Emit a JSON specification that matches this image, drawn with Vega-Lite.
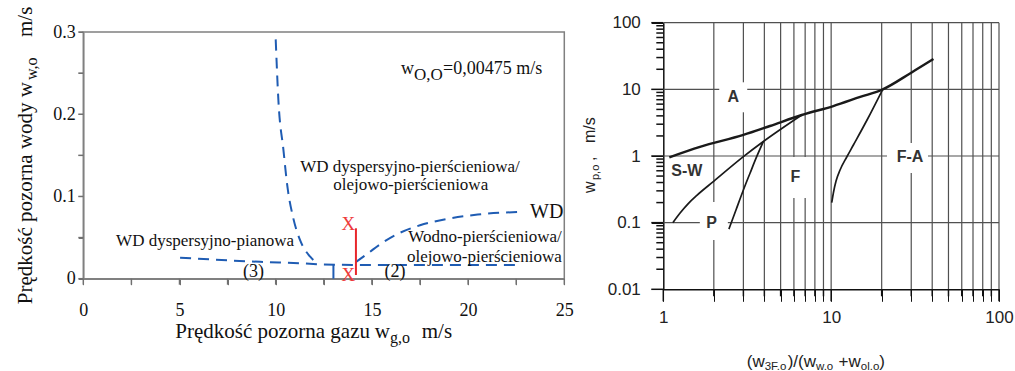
{
  "$schema": "https://vega.github.io/schema/vega-lite/v6.json",
  "width": 1015,
  "height": 371,
  "autosize": "none",
  "padding": 0,
  "background": "white",
  "config": {"view": {"stroke": null}},
  "resolve": {"scale": {"x": "independent", "y": "independent"}, "axis": {"x": "independent", "y": "independent"}},
  "layer": [
    {
      "encoding": {
        "x": {"field": "x", "type": "quantitative",
          "scale": {"domain": [0, 25], "range": [83.3, 564.3], "nice": false, "zero": false},
          "axis": {"orient": "bottom", "offset": -92.3, "values": [0, 2.5, 5, 7.5, 10, 12.5, 15, 17.5, 20, 22.5, 25],
            "labelExpr": "datum.value % 5 == 0 ? format(datum.value, 'd') : ''",
            "ticks": true, "tickSize": 6, "tickColor": "#707070", "domainColor": "#808080", "domainWidth": 1.5,
            "labelFont": "Liberation Serif", "labelFontSize": 18, "labelColor": "#111", "labelPadding": 16.5,
            "labelFlush": false, "labelOverlap": false, "title": null, "grid": false}},
        "y": {"field": "y", "type": "quantitative",
          "scale": {"domain": [0, 0.3], "range": [278.7, 32], "nice": false, "zero": false},
          "axis": {"orient": "left", "offset": -83.3, "values": [0, 0.05, 0.1, 0.15, 0.2, 0.25, 0.3],
            "labelExpr": "abs(datum.value*10 - round(datum.value*10)) < 0.001 ? format(datum.value, '~g') : ''",
            "ticks": true, "tickSize": 5, "tickColor": "#707070", "domainColor": "#808080", "domainWidth": 1.5,
            "labelFont": "Liberation Serif", "labelFontSize": 18, "labelColor": "#111", "labelPadding": 3,
            "labelFlush": false, "labelOverlap": false, "title": null, "grid": false}}
      },
      "layer": [
        {
          "data": {"values": [{"x": 0, "x2": 25, "y": 0, "y2": 0.3}]},
          "mark": {"type": "rect", "filled": false, "stroke": "#808080", "strokeWidth": 1.5},
          "encoding": {"x2": {"field": "x2"}, "y2": {"field": "y2"}}
        },
        {
          "data": {"values": [
            {"x": 0, "y": 0, "y2": -0.0073}, {"x": 2.5, "y": 0, "y2": -0.0073}, {"x": 5, "y": 0, "y2": -0.0073},
            {"x": 7.5, "y": 0, "y2": -0.0073}, {"x": 10, "y": 0, "y2": -0.0073}, {"x": 12.5, "y": 0, "y2": -0.0073},
            {"x": 15, "y": 0, "y2": -0.0073}, {"x": 17.5, "y": 0, "y2": -0.0073}, {"x": 20, "y": 0, "y2": -0.0073},
            {"x": 22.5, "y": 0, "y2": -0.0073}, {"x": 25, "y": 0, "y2": -0.0073}
          ]},
          "mark": {"type": "rule", "color": "#707070", "strokeWidth": 1.5},
          "encoding": {"y2": {"field": "y2"}}
        },
        {
          "data": {"values": [
            {"x": 0, "x2": -0.26, "y": 0}, {"x": 0, "x2": -0.26, "y": 0.05}, {"x": 0, "x2": -0.26, "y": 0.1},
            {"x": 0, "x2": -0.26, "y": 0.15}, {"x": 0, "x2": -0.26, "y": 0.2}, {"x": 0, "x2": -0.26, "y": 0.25},
            {"x": 0, "x2": -0.26, "y": 0.3}
          ]},
          "mark": {"type": "rule", "color": "#707070", "strokeWidth": 1.5},
          "encoding": {"x2": {"field": "x2"}}
        },
        {
          "data": {"values": [
            {"c": "a", "i": 0, "x": 10.0, "y": 0.291},
            {"c": "a", "i": 1, "x": 10.14, "y": 0.217},
            {"c": "a", "i": 2, "x": 10.4, "y": 0.157},
            {"c": "a", "i": 3, "x": 10.62, "y": 0.11},
            {"c": "a", "i": 4, "x": 10.9, "y": 0.075},
            {"c": "a", "i": 5, "x": 11.3, "y": 0.045},
            {"c": "a", "i": 6, "x": 11.78, "y": 0.027},
            {"c": "a", "i": 7, "x": 12.13, "y": 0.019},
            {"c": "b", "i": 0, "x": 5.03, "y": 0.0255},
            {"c": "b", "i": 1, "x": 7.8, "y": 0.022},
            {"c": "b", "i": 2, "x": 9.2, "y": 0.0205},
            {"c": "b", "i": 3, "x": 11.3, "y": 0.0187},
            {"c": "b", "i": 4, "x": 12.5, "y": 0.0172},
            {"c": "b", "i": 5, "x": 14, "y": 0.0168},
            {"c": "b", "i": 6, "x": 18, "y": 0.0167},
            {"c": "b", "i": 7, "x": 22.7, "y": 0.0167},
            {"c": "c", "i": 0, "x": 14.15, "y": 0.02},
            {"c": "c", "i": 1, "x": 14.8, "y": 0.031},
            {"c": "c", "i": 2, "x": 15.5, "y": 0.043},
            {"c": "c", "i": 3, "x": 16.3, "y": 0.054},
            {"c": "c", "i": 4, "x": 17.5, "y": 0.065},
            {"c": "c", "i": 5, "x": 19, "y": 0.073},
            {"c": "c", "i": 6, "x": 20.5, "y": 0.078},
            {"c": "c", "i": 7, "x": 22.7, "y": 0.0812}
          ]},
          "mark": {"type": "line", "color": "#1f5cb3", "strokeWidth": 2, "strokeDash": [11, 7], "interpolate": "monotone"},
          "encoding": {"detail": {"field": "c"}, "order": {"field": "i"}}
        },
        {
          "data": {"values": [{"x": 13, "y": 0, "y2": 0.017}]},
          "mark": {"type": "rule", "color": "#1f5cb3", "strokeWidth": 2},
          "encoding": {"y2": {"field": "y2"}}
        },
        {
          "data": {"values": [{"x": 14.17, "y": 0.0045, "y2": 0.0613}]},
          "mark": {"type": "rule", "color": "#e8262b", "strokeWidth": 2},
          "encoding": {"y2": {"field": "y2"}}
        },
        {
          "data": {"values": [
            {"x": 16.98, "y": 0.1362, "t": "WD dyspersyjno-pierścieniowa/"},
            {"x": 17.02, "y": 0.1139, "t": "olejowo-pierścieniowa"},
            {"x": 6.33, "y": 0.046, "t": "WD dyspersyjno-pianowa"},
            {"x": 20.88, "y": 0.0511, "t": "Wodno-pierścieniowa/"},
            {"x": 20.85, "y": 0.0268, "t": "olejowo-pierścieniowa"}
          ]},
          "mark": {"type": "text", "font": "Liberation Serif", "fontSize": 17, "color": "#111", "align": "center", "baseline": "middle"},
          "encoding": {"text": {"field": "t"}}
        },
        {
          "data": {"values": [
            {"x": 8.84, "y": 0.0085, "t": "(3)"},
            {"x": 16.2, "y": 0.0085, "t": "(2)"}
          ]},
          "mark": {"type": "text", "font": "Liberation Serif", "fontSize": 18, "color": "#111", "align": "center", "baseline": "middle"},
          "encoding": {"text": {"field": "t"}}
        },
        {
          "data": {"values": [{"x": 23.22, "y": 0.0811, "t": "WD"}]},
          "mark": {"type": "text", "font": "Liberation Serif", "fontSize": 20, "color": "#111", "align": "left", "baseline": "middle"},
          "encoding": {"text": {"field": "t"}}
        },
        {
          "data": {"values": [
            {"x": 13.78, "y": 0.0665, "t": "X"},
            {"x": 13.78, "y": 0.0045, "t": "X"}
          ]},
          "mark": {"type": "text", "font": "Liberation Serif", "fontSize": 19, "color": "#ee3b3b", "align": "center", "baseline": "middle"},
          "encoding": {"text": {"field": "t"}}
        },
        {
          "data": {"values": [
            {"x": 14.9, "y": -0.0716, "t": "Prędkość pozorna gazu"},
            {"x": 15.94, "y": -0.0716, "t": "w"}
          ]},
          "mark": {"type": "text", "font": "Liberation Serif", "fontSize": 21, "color": "#111", "align": "right", "baseline": "alphabetic"},
          "encoding": {"text": {"field": "t"}}
        },
        {
          "data": {"values": [{"x": 17.59, "y": -0.0716, "t": "m/s"}]},
          "mark": {"type": "text", "font": "Liberation Serif", "fontSize": 21, "color": "#111", "align": "left", "baseline": "alphabetic"},
          "encoding": {"text": {"field": "t"}}
        },
        {
          "data": {"values": [{"x": 15.94, "y": -0.0716, "t": "g,o"}]},
          "mark": {"type": "text", "font": "Liberation Serif", "fontSize": 16, "color": "#111", "align": "left", "baseline": "alphabetic", "dy": 5},
          "encoding": {"text": {"field": "t"}}
        },
        {
          "data": {"values": [{"x": 17.19, "y": 0.249, "t": "w"}]},
          "mark": {"type": "text", "font": "Liberation Serif", "fontSize": 18, "color": "#111", "align": "right", "baseline": "alphabetic"},
          "encoding": {"text": {"field": "t"}}
        },
        {
          "data": {"values": [{"x": 18.7, "y": 0.249, "t": "=0,00475 m/s"}]},
          "mark": {"type": "text", "font": "Liberation Serif", "fontSize": 18, "color": "#111", "align": "left", "baseline": "alphabetic"},
          "encoding": {"text": {"field": "t"}}
        },
        {
          "data": {"values": [{"x": 17.19, "y": 0.249, "t": "O,O"}]},
          "mark": {"type": "text", "font": "Liberation Serif", "fontSize": 17, "color": "#111", "align": "left", "baseline": "alphabetic", "dy": 6},
          "encoding": {"text": {"field": "t"}}
        },
        {
          "data": {"values": [{"x": -2.67, "y": 0.2392, "t": "Prędkość pozorna wody w"}]},
          "mark": {"type": "text", "font": "Liberation Serif", "fontSize": 21, "color": "#111", "align": "right", "baseline": "alphabetic", "angle": 270},
          "encoding": {"text": {"field": "t"}}
        },
        {
          "data": {"values": [{"x": -2.67, "y": 0.2939, "t": "m/s"}]},
          "mark": {"type": "text", "font": "Liberation Serif", "fontSize": 21, "color": "#111", "align": "left", "baseline": "alphabetic", "angle": 270},
          "encoding": {"text": {"field": "t"}}
        },
        {
          "data": {"values": [{"x": -2.41, "y": 0.2417, "t": "w,o"}]},
          "mark": {"type": "text", "font": "Liberation Serif", "fontSize": 16, "color": "#111", "align": "left", "baseline": "alphabetic", "angle": 270},
          "encoding": {"text": {"field": "t"}}
        }
      ]
    },
    {
      "encoding": {
        "x": {"field": "x", "type": "quantitative",
          "scale": {"type": "log", "domain": [1, 100], "range": [663.3, 999], "nice": false, "zero": false},
          "axis": {"orient": "bottom", "offset": -81.7, "values": [1, 2, 3, 4, 5, 6, 7, 8, 9, 10, 20, 30, 40, 50, 60, 70, 80, 90, 100],
            "labelExpr": "abs(log(datum.value)/LN10 - round(log(datum.value)/LN10)) < 0.001 ? format(datum.value, '~g') : ''",
            "ticks": true, "tickSize": 12, "tickColor": "#111", "domainColor": "#111", "domainWidth": 1.5,
            "labelFont": "Liberation Sans", "labelFontSize": 17, "labelColor": "#222", "labelPadding": 8,
            "labelFlush": false, "labelOverlap": false, "title": null, "grid": false}},
        "y": {"field": "y", "type": "quantitative",
          "scale": {"type": "log", "domain": [0.01, 100], "range": [289.3, 22.7], "nice": false, "zero": false},
          "axis": {"orient": "left", "offset": -663.3,
            "values": [0.01, 0.1, 1, 10, 100],
            "labelExpr": "format(datum.value, '~g')",
            "ticks": true, "tickSize": 12, "tickColor": "#111", "domainColor": "#111", "domainWidth": 1.5,
            "labelFont": "Liberation Sans", "labelFontSize": 17, "labelColor": "#222", "labelPadding": 11,
            "labelFlush": false, "labelOverlap": false, "title": null, "grid": false}}
      },
      "layer": [
        {
          "data": {"values": [
            {"x": 2, "y": 0.01, "y2": 100}, {"x": 3, "y": 0.01, "y2": 100}, {"x": 4, "y": 0.01, "y2": 100},
            {"x": 5, "y": 0.01, "y2": 100}, {"x": 6, "y": 0.01, "y2": 100}, {"x": 7, "y": 0.01, "y2": 100},
            {"x": 8, "y": 0.01, "y2": 100}, {"x": 9, "y": 0.01, "y2": 100}, {"x": 10, "y": 0.01, "y2": 100},
            {"x": 20, "y": 0.01, "y2": 100}, {"x": 30, "y": 0.01, "y2": 100}, {"x": 40, "y": 0.01, "y2": 100},
            {"x": 50, "y": 0.01, "y2": 100}, {"x": 60, "y": 0.01, "y2": 100}, {"x": 70, "y": 0.01, "y2": 100},
            {"x": 80, "y": 0.01, "y2": 100}, {"x": 90, "y": 0.01, "y2": 100}, {"x": 100, "y": 0.01, "y2": 100}
          ]},
          "mark": {"type": "rule", "color": "#505050", "strokeWidth": 1.2},
          "encoding": {"y2": {"field": "y2"}}
        },
        {
          "data": {"values": [
            {"x": 1, "x2": 100, "y": 0.1}, {"x": 1, "x2": 100, "y": 1},
            {"x": 1, "x2": 100, "y": 10}, {"x": 1, "x2": 100, "y": 100}
          ]},
          "mark": {"type": "rule", "color": "#505050", "strokeWidth": 1.2},
          "encoding": {"x2": {"field": "x2"}}
        },
        {
          "data": {"values": [
            {"x": 1, "y": 0.01, "y2": 0.00661}, {"x": 10, "y": 0.01, "y2": 0.00661}, {"x": 100, "y": 0.01, "y2": 0.00661},
            {"x": 2, "y": 0.01, "y2": 0.00785}, {"x": 3, "y": 0.01, "y2": 0.00785}, {"x": 4, "y": 0.01, "y2": 0.00785},
            {"x": 5, "y": 0.01, "y2": 0.00785}, {"x": 6, "y": 0.01, "y2": 0.00785}, {"x": 7, "y": 0.01, "y2": 0.00785},
            {"x": 8, "y": 0.01, "y2": 0.00785}, {"x": 9, "y": 0.01, "y2": 0.00785}, {"x": 20, "y": 0.01, "y2": 0.00785},
            {"x": 30, "y": 0.01, "y2": 0.00785}, {"x": 40, "y": 0.01, "y2": 0.00785}, {"x": 50, "y": 0.01, "y2": 0.00785},
            {"x": 60, "y": 0.01, "y2": 0.00785}, {"x": 70, "y": 0.01, "y2": 0.00785}, {"x": 80, "y": 0.01, "y2": 0.00785},
            {"x": 90, "y": 0.01, "y2": 0.00785}
          ]},
          "mark": {"type": "rule", "color": "#111", "strokeWidth": 1.5},
          "encoding": {"y2": {"field": "y2"}}
        },
        {
          "data": {"values": [
            {"y": 0.01, "x": 1, "x2": 0.848}, {"y": 0.1, "x": 1, "x2": 0.848}, {"y": 1, "x": 1, "x2": 0.848},
            {"y": 10, "x": 1, "x2": 0.848}, {"y": 100, "x": 1, "x2": 0.848},
            {"y": 0.02, "x": 1, "x2": 0.9085}, {"y": 0.03, "x": 1, "x2": 0.9085}, {"y": 0.04, "x": 1, "x2": 0.9085},
            {"y": 0.05, "x": 1, "x2": 0.9085}, {"y": 0.06, "x": 1, "x2": 0.9085}, {"y": 0.07, "x": 1, "x2": 0.9085},
            {"y": 0.08, "x": 1, "x2": 0.9085}, {"y": 0.09, "x": 1, "x2": 0.9085},
            {"y": 0.2, "x": 1, "x2": 0.9085}, {"y": 0.3, "x": 1, "x2": 0.9085}, {"y": 0.4, "x": 1, "x2": 0.9085},
            {"y": 0.5, "x": 1, "x2": 0.9085}, {"y": 0.6, "x": 1, "x2": 0.9085}, {"y": 0.7, "x": 1, "x2": 0.9085},
            {"y": 0.8, "x": 1, "x2": 0.9085}, {"y": 0.9, "x": 1, "x2": 0.9085},
            {"y": 2, "x": 1, "x2": 0.9085}, {"y": 3, "x": 1, "x2": 0.9085}, {"y": 4, "x": 1, "x2": 0.9085},
            {"y": 5, "x": 1, "x2": 0.9085}, {"y": 6, "x": 1, "x2": 0.9085}, {"y": 7, "x": 1, "x2": 0.9085},
            {"y": 8, "x": 1, "x2": 0.9085}, {"y": 9, "x": 1, "x2": 0.9085},
            {"y": 20, "x": 1, "x2": 0.9085}, {"y": 30, "x": 1, "x2": 0.9085}, {"y": 40, "x": 1, "x2": 0.9085},
            {"y": 50, "x": 1, "x2": 0.9085}, {"y": 60, "x": 1, "x2": 0.9085}, {"y": 70, "x": 1, "x2": 0.9085},
            {"y": 80, "x": 1, "x2": 0.9085}, {"y": 90, "x": 1, "x2": 0.9085}
          ]},
          "mark": {"type": "rule", "color": "#111", "strokeWidth": 1.5},
          "encoding": {"x2": {"field": "x2"}}
        },
        {
          "data": {"values": [{"x": 2.61, "y": 7.6}]},
          "mark": {"type": "point", "shape": "M-0.933,-1H0.933V1H-0.933Z", "size": 900, "filled": true, "fill": "white", "strokeWidth": 0, "opacity": 1}
        },
        {
          "data": {"values": [{"x": 6.18, "y": 0.476}]},
          "mark": {"type": "point", "shape": "M-0.683,-1H0.683V1H-0.683Z", "size": 1681, "filled": true, "fill": "white", "strokeWidth": 0, "opacity": 1}
        },
        {
          "data": {"values": [{"x": 28.5, "y": 0.933}]},
          "mark": {"type": "point", "shape": "M-1,-0.732H1V0.732H-1Z", "size": 1681, "filled": true, "fill": "white", "strokeWidth": 0, "opacity": 1}
        },
        {
          "data": {"values": [{"x": 2.0, "y": 0.106}]},
          "mark": {"type": "point", "shape": "M-0.737,-1H0.737V1H-0.737Z", "size": 1444, "filled": true, "fill": "white", "strokeWidth": 0, "opacity": 1}
        },
        {
          "data": {"values": [
            {"i": 0, "x": 1.086, "y": 0.956},
            {"i": 1, "x": 1.654, "y": 1.37},
            {"i": 2, "x": 3.0, "y": 2.07},
            {"i": 3, "x": 4.32, "y": 2.82},
            {"i": 4, "x": 6.68, "y": 4.12},
            {"i": 5, "x": 10.3, "y": 5.62},
            {"i": 6, "x": 14.9, "y": 7.7},
            {"i": 7, "x": 20.3, "y": 10.0},
            {"i": 8, "x": 30, "y": 17.8},
            {"i": 9, "x": 40.7, "y": 28.5}
          ]},
          "mark": {"type": "line", "color": "#1a1a1a", "strokeWidth": 2.4, "interpolate": "monotone"},
          "encoding": {"order": {"field": "i"}}
        },
        {
          "data": {"values": [
            {"c": "2", "i": 0, "x": 1.14, "y": 0.1},
            {"c": "2", "i": 1, "x": 1.259, "y": 0.1396},
            {"c": "2", "i": 2, "x": 1.413, "y": 0.195},
            {"c": "2", "i": 3, "x": 1.585, "y": 0.257},
            {"c": "2", "i": 4, "x": 1.995, "y": 0.417},
            {"c": "2", "i": 5, "x": 3.0, "y": 0.977},
            {"c": "2", "i": 6, "x": 3.945, "y": 1.648},
            {"c": "2", "i": 7, "x": 6.68, "y": 4.12},
            {"c": "3", "i": 0, "x": 2.46, "y": 0.08},
            {"c": "3", "i": 1, "x": 2.71, "y": 0.155},
            {"c": "3", "i": 2, "x": 3.0, "y": 0.309},
            {"c": "3", "i": 3, "x": 3.29, "y": 0.556},
            {"c": "3", "i": 4, "x": 3.6, "y": 0.977},
            {"c": "3", "i": 5, "x": 3.945, "y": 1.648},
            {"c": "4", "i": 0, "x": 10.08, "y": 0.199},
            {"c": "4", "i": 1, "x": 10.335, "y": 0.2884},
            {"c": "4", "i": 2, "x": 10.695, "y": 0.4216},
            {"c": "4", "i": 3, "x": 11.298, "y": 0.6164},
            {"c": "4", "i": 4, "x": 12.387, "y": 0.966},
            {"c": "4", "i": 5, "x": 13.565, "y": 1.462},
            {"c": "4", "i": 6, "x": 16.3, "y": 3.409},
            {"c": "4", "i": 7, "x": 20.3, "y": 10.02}
          ]},
          "mark": {"type": "line", "color": "#1a1a1a", "strokeWidth": 1.7, "interpolate": "monotone"},
          "encoding": {"detail": {"field": "c"}, "order": {"field": "i"}}
        },
        {
          "data": {"values": [
            {"x": 2.61, "y": 7.6, "t": "A"},
            {"x": 1.38, "y": 0.596, "t": "S-W"},
            {"x": 6.12, "y": 0.49, "t": "F"},
            {"x": 1.94, "y": 0.1, "t": "P"},
            {"x": 29.5, "y": 0.977, "t": "F-A"}
          ]},
          "mark": {"type": "text", "font": "Liberation Sans", "fontSize": 16, "fontWeight": "bold", "color": "#333", "align": "center", "baseline": "middle"},
          "encoding": {"text": {"field": "t"}}
        },
        {
          "data": {"values": [
            {"x": 3.141, "y": 0.00069, "t": "(w"},
            {"x": 5.506, "y": 0.00069, "t": ")/(w"},
            {"x": 11.07, "y": 0.00069, "t": "+w"},
            {"x": 19.34, "y": 0.00069, "t": ")"}
          ]},
          "mark": {"type": "text", "font": "Liberation Sans", "fontSize": 17, "color": "#222", "align": "left", "baseline": "alphabetic"},
          "encoding": {"text": {"field": "t"}}
        },
        {
          "data": {"values": [
            {"x": 4.015, "y": 0.00069, "t": "3F.o"},
            {"x": 8.12, "y": 0.00069, "t": "w.o"},
            {"x": 15.01, "y": 0.00069, "t": "ol.o"}
          ]},
          "mark": {"type": "text", "font": "Liberation Sans", "fontSize": 11.5, "color": "#222", "align": "left", "baseline": "alphabetic", "dy": 3},
          "encoding": {"text": {"field": "t"}}
        },
        {
          "data": {"values": [
            {"x": 0.392, "y": 0.279, "t": "w"},
            {"x": 0.392, "y": 0.841, "t": ","},
            {"x": 0.392, "y": 1.567, "t": "m/s"}
          ]},
          "mark": {"type": "text", "font": "Liberation Sans", "fontSize": 16, "color": "#222", "align": "left", "baseline": "alphabetic", "angle": 270},
          "encoding": {"text": {"field": "t"}}
        },
        {
          "data": {"values": [{"x": 0.414, "y": 0.436, "t": "p,o"}]},
          "mark": {"type": "text", "font": "Liberation Sans", "fontSize": 11, "color": "#222", "align": "left", "baseline": "alphabetic", "angle": 270},
          "encoding": {"text": {"field": "t"}}
        }
      ]
    }
  ]
}
